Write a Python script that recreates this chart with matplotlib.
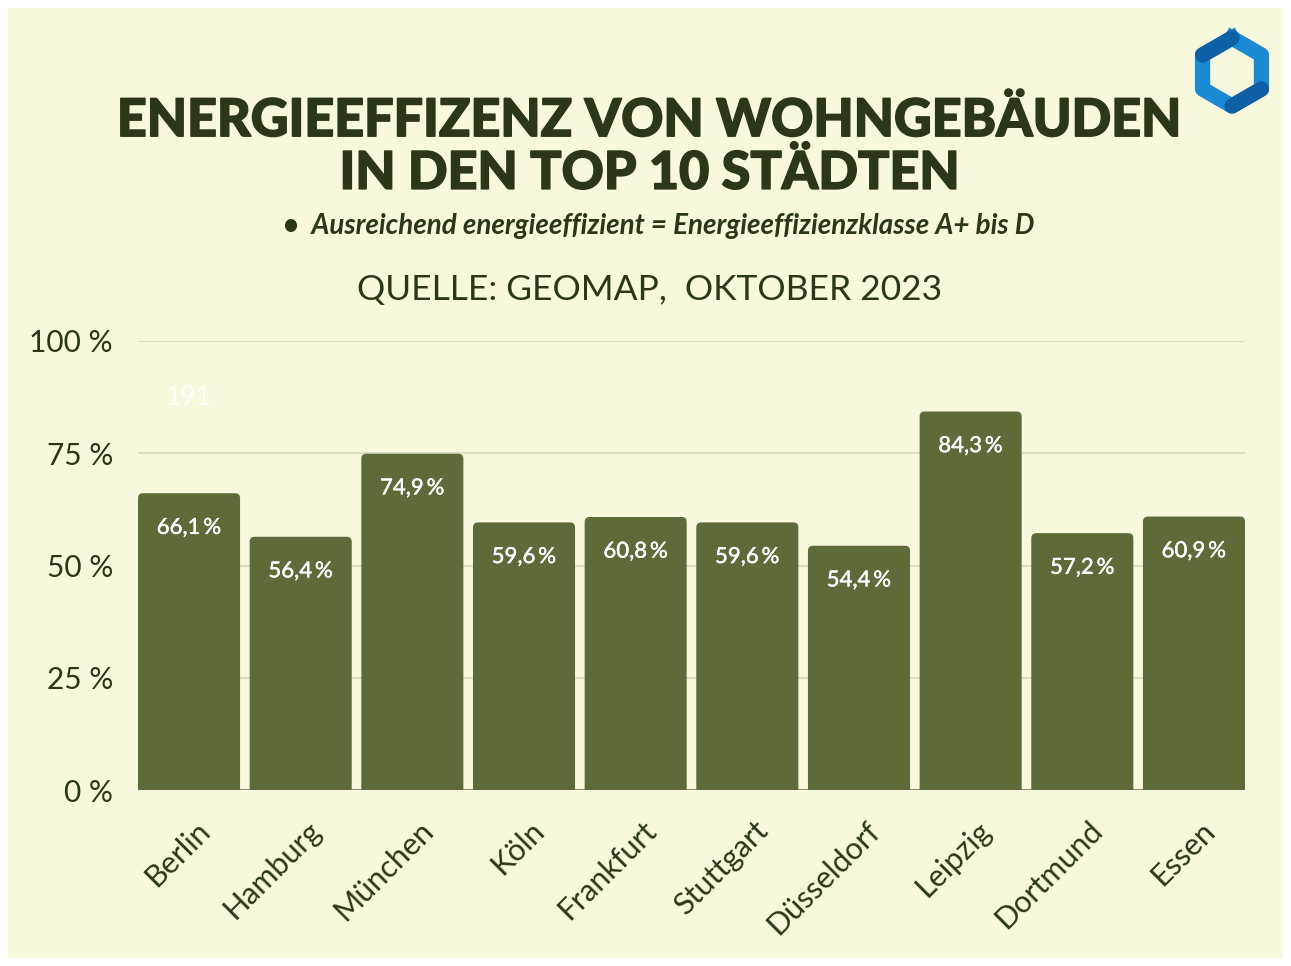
import matplotlib
matplotlib.use('Agg')
import matplotlib.pyplot as plt
import matplotlib.patheffects as pe
from matplotlib.patches import FancyBboxPatch, Rectangle
from matplotlib.lines import Line2D
from matplotlib.transforms import ScaledTranslation
import numpy as np

cities = ['Berlin', 'Hamburg', 'München', 'Köln', 'Frankfurt', 'Stuttgart',
          'Düsseldorf', 'Leipzig', 'Dortmund', 'Essen']
shares = [66.1, 56.4, 74.9, 59.6, 60.8, 59.6, 54.4, 84.3, 57.2, 60.9]
yticks = [0, 25, 50, 75, 100]
ytick_labels = ['0 %', '25 %', '50 %', '75 %', '100 %']

title = 'ENERGIEEFFIZENZ VON WOHNGEBÄUDEN\nIN DEN TOP 10 STÄDTEN'
note = '•  Ausreichend energieeffizient = Energieeffizienzklasse A+ bis D'
source = 'QUELLE: GEOMAP,  OKTOBER 2023'

bg = '#F8F8DC'
bar_col = '#5E6B38'
dark = '#2B361A'
W, H = 1291, 966

plt.rcParams['font.family'] = ['Lato', 'DejaVu Sans']

fig = plt.figure(figsize=(W / 100, H / 100), dpi=100, facecolor='white')
fig.add_artist(Rectangle((8 / W, 8 / H), (W - 16) / W, (H - 16) / H,
                         transform=fig.transFigure, facecolor=bg,
                         edgecolor='none', zorder=0))

ax = fig.add_axes([138 / W, (H - 790) / H, (1245 - 138) / W, (790 - 341) / H])
ax.set_facecolor('none')
x = np.arange(len(cities))
width = 0.914
ax.set_xlim(-width / 2, len(cities) - 1 + width / 2)
ax.set_ylim(0, 100)

# rounded bars (x px per unit vs y px per unit)
px_x = (1245 - 138) / (len(cities) - 1 + width)
px_y = (790 - 341) / 100
r = 5 / px_x
for xi, v in zip(x, shares):
    p = FancyBboxPatch((xi - width / 2 + r, -5), width - 2 * r, v + 5 - r * px_x / px_y,
                       boxstyle=f'round,pad={r},rounding_size={r}',
                       mutation_aspect=px_x / px_y,
                       facecolor=bar_col, edgecolor='none', zorder=3)
    ax.add_patch(p)
    ax.annotate(f'{v:.1f}\u2009%'.replace('.', ','), (xi, v), xytext=(0, -25),
                textcoords='offset points', ha='center', va='center',
                color='white', fontsize=16, fontweight='medium', zorder=4,
                path_effects=[pe.withStroke(linewidth=0.15, foreground='white')])

ax.set_yticks(yticks)
ax.set_yticklabels(ytick_labels, fontsize=21.5, color=dark)
ax.grid(axis='y', color='#D9D9C0', linewidth=1.2, zorder=1)
ax.axhline(0, color='#8A9070', linewidth=1.5, zorder=2)
for s in ax.spines.values():
    s.set_visible(False)
ax.tick_params(axis='y', length=0, pad=18)
ax.tick_params(axis='x', length=0, pad=26)
ax.set_xticks(x)
ax.set_xticklabels(cities, rotation=45, ha='right', va='center',
                   rotation_mode='anchor', fontsize=22, color=dark)
for lab in ax.get_xticklabels():
    lab.set_transform(lab.get_transform() + ScaledTranslation(0.16, 0, fig.dpi_scale_trans))

ax.text(0, 87.5, '191', ha='center', va='center', fontsize=19,
        color='white', alpha=0.85)

fig.text(0.5035, 1 - 148 / H, title, ha='center', va='center', fontsize=37.5,
         fontweight='black', color=dark, linespacing=1.15,
         path_effects=[pe.withStroke(linewidth=1.1, foreground=dark)])
fig.text(0.510, 1 - 226 / H, note, ha='center', va='center', fontsize=20,
         fontweight='bold', style='italic', color=dark)
fig.text(0.5035, 1 - 290 / H, source, ha='center', va='center', fontsize=25.5,
         color=dark)

# logo: hexagonal ring
ang = np.deg2rad(90 + 60 * np.arange(7))
R = 34
hx = (1232 + R * np.cos(ang)) / W
hy = (H - 72 + R * np.sin(ang)) / H
fig.add_artist(Line2D(hx, hy, transform=fig.transFigure, color='#1A8AD4',
                      linewidth=11, solid_joinstyle='round'))
fig.add_artist(Line2D(hx[:2], hy[:2], transform=fig.transFigure, color='#0E5FA6',
                      linewidth=11, solid_capstyle='round'))
fig.add_artist(Line2D(hx[3:5], hy[3:5], transform=fig.transFigure, color='#0E5FA6',
                      linewidth=11, solid_capstyle='round'))

fig.savefig('out.png', dpi=100, facecolor='white')
